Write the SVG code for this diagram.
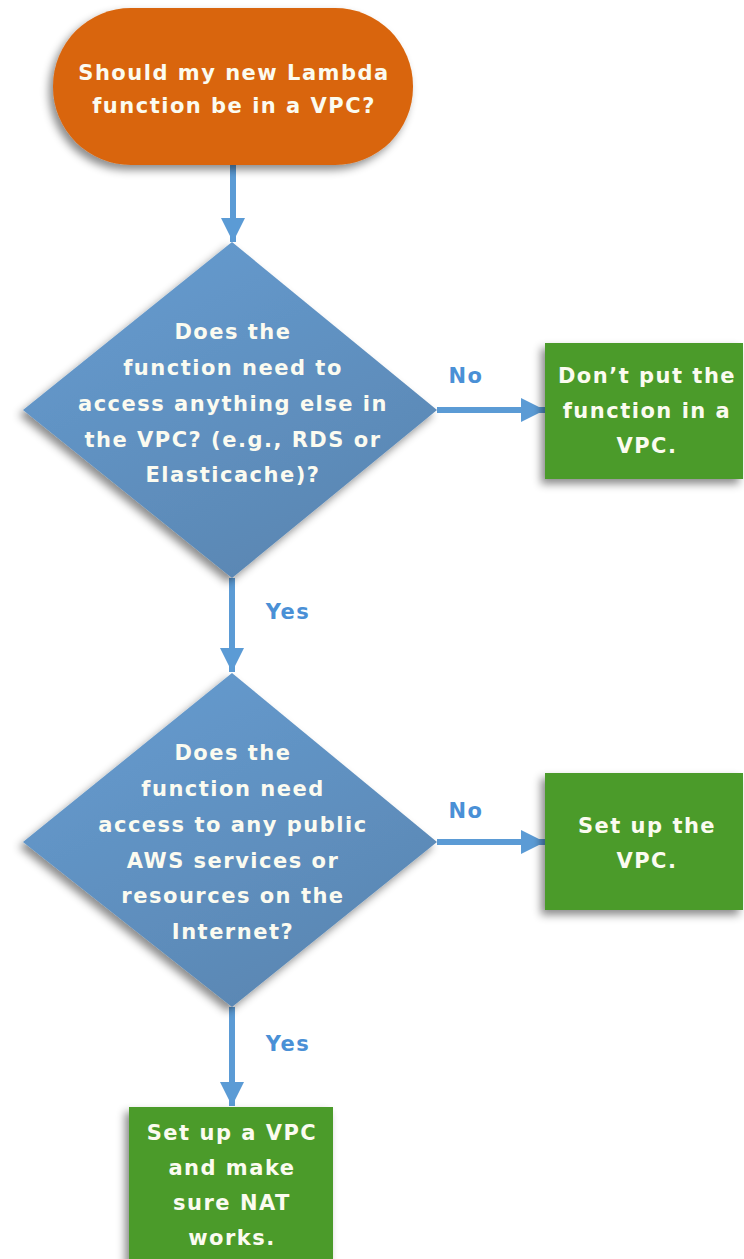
<svg xmlns="http://www.w3.org/2000/svg" width="744" height="1259" viewBox="0 0 744 1259">
<defs>
<filter id="sh" x="-20%" y="-20%" width="140%" height="140%">
<feDropShadow dx="-4" dy="5" stdDeviation="4" flood-color="#000" flood-opacity="0.45"/>
</filter>
<linearGradient id="dg" x1="0" y1="0" x2="0.6" y2="1">
<stop offset="0" stop-color="#679dd2"/>
<stop offset="1" stop-color="#5a87b3"/>
</linearGradient>
<marker id="ah" viewBox="0 0 10 10" refX="10" refY="5" markerWidth="5" markerHeight="4" markerUnits="strokeWidth" orient="auto">
<path d="M0,0 L10,5 L0,10 z" fill="#5b9bd5"/>
</marker>
<style>
.t{font-family:"DejaVu Sans",Verdana,sans-serif;font-weight:bold;font-size:21px;letter-spacing:1.5px;fill:#fbfbf0;text-anchor:middle}
.lb{font-family:"DejaVu Sans",Verdana,sans-serif;font-weight:bold;font-size:21px;letter-spacing:1.5px;fill:#4a90d6;text-anchor:middle}
.c{stroke:#5b9bd5;stroke-width:6;fill:none;marker-end:url(#ah)}
.grn{fill:#4b9b29;filter:url(#sh)}
.dia{fill:url(#dg);filter:url(#sh)}
</style>
</defs>
<g id="connectors">
<line class="c" x1="233" y1="165" x2="233" y2="242"/>
<line class="c" x1="437" y1="410" x2="545" y2="410"/>
<line class="c" x1="232" y1="578" x2="232" y2="672"/>
<line class="c" x1="437" y1="842" x2="545" y2="842"/>
<line class="c" x1="232" y1="1007" x2="232" y2="1106"/>
<text class="lb" x="466" y="383">No</text>
<text class="lb" x="288" y="619">Yes</text>
<text class="lb" x="466" y="818">No</text>
<text class="lb" x="288" y="1051">Yes</text>
</g>
<g id="start">
<rect x="53" y="8" width="360" height="157" rx="78" ry="78" fill="#d9650b" filter="url(#sh)"/>
<text class="t" x="234" y="80">Should my new Lambda</text>
<text class="t" x="234" y="113">function be in a VPC?</text>
</g>
<g id="decision1">
<polygon class="dia" points="232,242 437,410 232,578 23,410"/>
<text class="t" x="233" y="339">Does the</text>
<text class="t" x="233" y="375">function need to</text>
<text class="t" x="233" y="411">access anything else in</text>
<text class="t" x="233" y="447">the VPC? (e.g., RDS or</text>
<text class="t" x="233" y="482">Elasticache)?</text>
</g>
<g id="noVpc">
<rect class="grn" x="545" y="343" width="198" height="136"/>
<text class="t" x="647" y="383">Don’t put the</text>
<text class="t" x="647" y="418">function in a</text>
<text class="t" x="647" y="453">VPC.</text>
</g>
<g id="decision2">
<polygon class="dia" points="232,673 437,842 232,1007 23,842"/>
<text class="t" x="233" y="760">Does the</text>
<text class="t" x="233" y="796">function need</text>
<text class="t" x="233" y="832">access to any public</text>
<text class="t" x="233" y="868">AWS services or</text>
<text class="t" x="233" y="903">resources on the</text>
<text class="t" x="233" y="939">Internet?</text>
</g>
<g id="setupVpc">
<rect class="grn" x="545" y="773" width="198" height="137"/>
<text class="t" x="647" y="833">Set up the</text>
<text class="t" x="647" y="868">VPC.</text>
</g>
<g id="setupNat">
<rect class="grn" x="129" y="1107" width="204" height="160"/>
<text class="t" x="232" y="1140">Set up a VPC</text>
<text class="t" x="232" y="1175">and make</text>
<text class="t" x="232" y="1210">sure NAT</text>
<text class="t" x="232" y="1245">works.</text>
</g>
</svg>
